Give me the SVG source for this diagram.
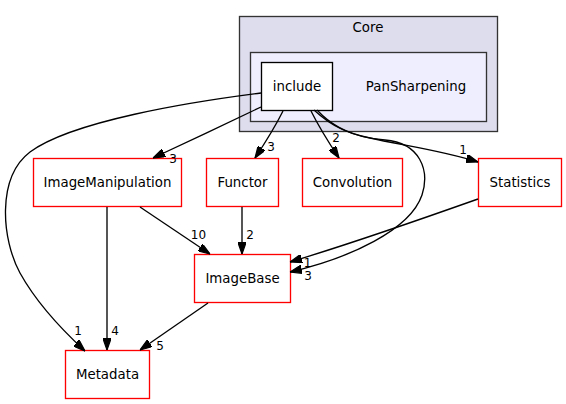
<svg xmlns="http://www.w3.org/2000/svg" width="566" height="404" viewBox="0 0 566 404">
<style>
text{font-family:"DejaVu Sans","Liberation Sans",sans-serif;font-size:13.33px;fill:#000}
.n{text-anchor:middle}
.dir{fill:#fff;stroke:#ff0000;stroke-width:1.33}
.e{fill:none;stroke:#000;stroke-width:1.33;marker-end:url(#ah)}
.l{text-anchor:middle;font-size:12px}
</style>
<defs>
<marker id="ah" viewBox="0 0 10 7" refX="10" refY="3.5" markerWidth="12" markerHeight="8.4" markerUnits="userSpaceOnUse" orient="auto">
<path d="M0,0 L10,3.5 L0,7 z" fill="#000" stroke="#000"/>
</marker>
</defs>
<rect width="566" height="404" fill="#fff"/>
<g id="cluster_Core">
<rect x="239.5" y="16.5" width="258" height="115" fill="#ddddee" stroke="#333" stroke-width="1.33"/>
<text class="n" x="368" y="32">Core</text>
</g>
<g id="cluster_PanSharpening">
<rect x="250.5" y="52.5" width="236" height="69" fill="#eeeeff" stroke="#333" stroke-width="1.33"/>
<text class="n" x="416" y="91">PanSharpening</text>
</g>
<g id="include">
<rect x="261.5" y="62.5" width="71" height="48" fill="#fff" stroke="#000" stroke-width="1.33"/>
<text class="n" x="297" y="91">include</text>
</g>
<g id="ImageManipulation">
<rect class="dir" x="33.5" y="158.5" width="148" height="48"/>
<text class="n" x="107.5" y="187">ImageManipulation</text>
</g>
<g id="Functor">
<rect class="dir" x="206.5" y="158.5" width="72" height="48"/>
<text class="n" x="242.5" y="187">Functor</text>
</g>
<g id="Convolution">
<rect class="dir" x="302.5" y="158.5" width="100" height="48"/>
<text class="n" x="352.5" y="187">Convolution</text>
</g>
<g id="Statistics">
<rect class="dir" x="478.5" y="158.5" width="83" height="48"/>
<text class="n" x="520" y="187">Statistics</text>
</g>
<g id="ImageBase">
<rect class="dir" x="194.5" y="254.5" width="96" height="48"/>
<text class="n" x="242.5" y="283">ImageBase</text>
</g>
<g id="Metadata">
<rect class="dir" x="65.5" y="350.5" width="84" height="48"/>
<text class="n" x="107.5" y="379">Metadata</text>
</g>
<g id="connectors">
<path class="e" d="M261,107 C230,122 185,143 153,158"/>
<path class="e" d="M283,111 C276,125 265,143 255,158"/>
<path class="e" d="M311,111 C318,125 329,143 339,158"/>
<path class="e" d="M317,110 C330,124 345,133 370,138 C400,145 440,150 478,162"/>
<path class="e" d="M314,110 C330,125 350,137 385,140 C420,143 430,170 422,195 C410,230 350,258 290,272"/>
<path class="e" d="M261,93 C190,102 72,121 30,152 C-4,178 2,240 20,273 C35,300 60,328 85,351"/>
<path class="e" d="M107,207 L107,350"/>
<path class="e" d="M140,207 L210,254"/>
<path class="e" d="M242,207 L242,254"/>
<path class="e" d="M478,199 C430,216 350,244 290,262"/>
<path class="e" d="M208,303 L140,350"/>
<text class="l" x="173" y="163">3</text>
<text class="l" x="271" y="151">3</text>
<text class="l" x="336" y="142">2</text>
<text class="l" x="463" y="154">1</text>
<text class="l" x="198.5" y="239">10</text>
<text class="l" x="250" y="239">2</text>
<text class="l" x="307.5" y="267">1</text>
<text class="l" x="308" y="280">3</text>
<text class="l" x="78" y="335">1</text>
<text class="l" x="115" y="335">4</text>
<text class="l" x="160" y="350">5</text>
</g>
</svg>
